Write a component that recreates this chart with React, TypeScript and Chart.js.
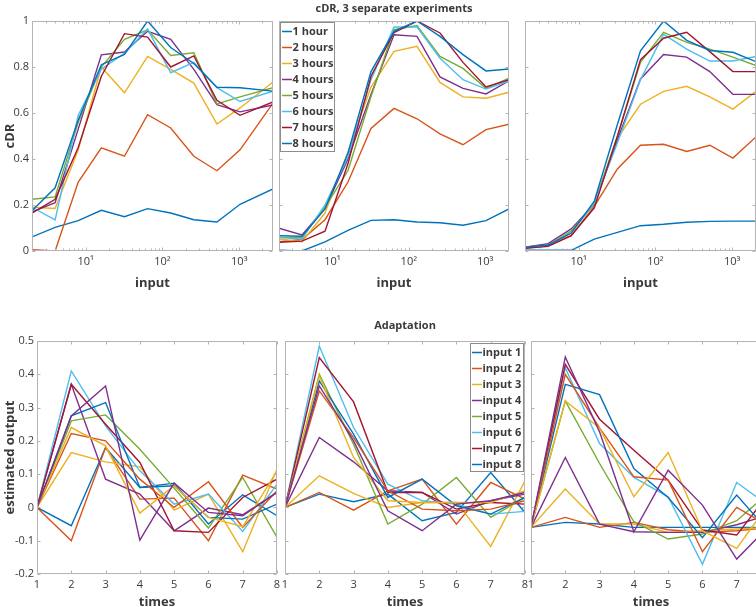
import React, { useEffect, useRef } from 'react';
import { Chart, registerables } from 'chart.js';
Chart.register(...registerables);

const FONT = "'Open Sans', 'Noto Sans', sans-serif";
const TEXT = '#3a3a3a';
const AXIS = '#b4b4b4';
const LEGEND_EDGE = '#8c8c8c';
const PALETTE = ['#0072BD', '#D95319', '#EDB120', '#7E2F8E', '#77AC30', '#4DBEEE', '#A2142F'];
const CW = 800;
const CH = 620;

// ---------- data ----------
const inputsExp1 = [2, 4, 8, 16, 32, 64, 128, 256, 512, 1024, 2750];
const inputsExp23 = [2, 4, 8, 16, 32, 64, 128, 256, 512, 1024, 2048];
const hourNames = ['1 hour', '2 hours', '3 hours', '4 hours', '5 hours', '6 hours', '7 hours', '8 hours'];

const cdrExp1 = [
  [0.061, 0.103, 0.132, 0.177, 0.149, 0.184, 0.165, 0.136, 0.126, 0.203, 0.27],
  [0.006, 0.0, 0.3, 0.448, 0.412, 0.593, 0.535, 0.412, 0.349, 0.44, 0.643],
  [0.19, 0.185, 0.44, 0.8, 0.688, 0.846, 0.79, 0.73, 0.552, 0.622, 0.735],
  [0.17, 0.21, 0.53, 0.853, 0.865, 0.955, 0.92, 0.79, 0.636, 0.605, 0.635],
  [0.225, 0.235, 0.56, 0.8, 0.92, 0.962, 0.85, 0.862, 0.64, 0.67, 0.71],
  [0.19, 0.135, 0.59, 0.79, 0.86, 0.965, 0.775, 0.82, 0.71, 0.65, 0.695],
  [0.165, 0.225, 0.45, 0.76, 0.945, 0.93, 0.8, 0.848, 0.655, 0.59, 0.648],
  [0.175, 0.275, 0.57, 0.81, 0.855, 1.0, 0.885, 0.815, 0.712, 0.71, 0.695],
];
const cdrExp2 = [
  [0.003, 0.0, 0.04, 0.09, 0.133, 0.136, 0.126, 0.123, 0.112, 0.132, 0.183],
  [0.04, 0.05, 0.136, 0.3, 0.533, 0.62, 0.575, 0.509, 0.462, 0.528, 0.551],
  [0.052, 0.04, 0.165, 0.43, 0.713, 0.868, 0.89, 0.733, 0.67, 0.664, 0.69],
  [0.099, 0.07, 0.186, 0.4, 0.68, 0.94, 0.933, 0.757, 0.707, 0.683, 0.74],
  [0.06, 0.06, 0.19, 0.35, 0.672, 0.962, 0.98, 0.846, 0.794, 0.707, 0.752],
  [0.058, 0.052, 0.2, 0.41, 0.745, 0.974, 0.974, 0.838, 0.745, 0.704, 0.739],
  [0.038, 0.043, 0.086, 0.38, 0.76, 0.95, 1.0, 0.948, 0.82, 0.713, 0.745],
  [0.067, 0.064, 0.183, 0.426, 0.78, 0.955, 1.0, 0.933, 0.854, 0.783, 0.791],
];
const cdrExp3 = [
  [0.003, 0.003, 0.003, 0.052, 0.081, 0.11, 0.116, 0.125, 0.129, 0.13, 0.13],
  [0.013, 0.023, 0.067, 0.194, 0.357, 0.46, 0.464, 0.433, 0.46, 0.404, 0.496],
  [0.013, 0.023, 0.078, 0.206, 0.49, 0.638, 0.694, 0.716, 0.67, 0.617, 0.694],
  [0.017, 0.032, 0.096, 0.203, 0.484, 0.748, 0.854, 0.843, 0.78, 0.681, 0.681],
  [0.014, 0.026, 0.087, 0.206, 0.499, 0.82, 0.951, 0.907, 0.878, 0.843, 0.806],
  [0.017, 0.023, 0.078, 0.209, 0.47, 0.745, 0.942, 0.878, 0.826, 0.826, 0.846],
  [0.012, 0.02, 0.067, 0.187, 0.499, 0.832, 0.925, 0.951, 0.867, 0.78, 0.78],
  [0.017, 0.026, 0.078, 0.217, 0.55, 0.87, 1.0, 0.916, 0.872, 0.864, 0.823],
];

const times = [1, 2, 3, 4, 5, 6, 7, 8];
const inputNames = ['input 1', 'input 2', 'input 3', 'input 4', 'input 5', 'input 6', 'input 7', 'input 8', 'input 9', 'input 10', 'input 11'];

const adaptExp1 = [
  [0, -0.055, 0.18, 0.06, 0.073, -0.05, 0.038, -0.025],
  [0, -0.1, 0.18, 0.025, 0.028, -0.1, 0.097, 0.055],
  [0, 0.165, 0.137, 0.122, -0.008, 0.04, -0.133, 0.115],
  [0, 0.37, 0.085, 0.04, -0.07, -0.002, -0.022, 0.045],
  [0, 0.26, 0.278, 0.175, 0.058, -0.062, 0.09, -0.09],
  [0, 0.41, 0.245, 0.11, 0.01, 0.04, -0.072, 0.07],
  [0, 0.37, 0.25, 0.135, -0.07, -0.075, 0.03, 0.085],
  [0, 0.275, 0.315, 0.06, 0.065, -0.03, -0.035, 0.01],
  [0, 0.222, 0.2, 0.085, 0.0, 0.077, -0.06, 0.05],
  [0, 0.24, 0.185, -0.017, 0.065, -0.03, -0.058, 0.11],
  [0, 0.275, 0.365, -0.098, 0.073, -0.015, -0.025, 0.045],
];
const adaptExp2 = [
  [0, 0.04, 0.017, 0.04, -0.04, -0.015, 0.105, -0.015],
  [0, 0.045, -0.008, 0.05, 0.085, -0.05, 0.075, 0.025],
  [0, 0.095, 0.042, 0.0, 0.015, 0.015, -0.117, 0.08],
  [0, 0.21, 0.137, 0.05, 0.045, -0.02, 0.02, 0.04],
  [0, 0.4, 0.19, -0.05, 0.01, 0.09, -0.03, 0.03],
  [0, 0.485, 0.24, 0.07, 0.02, 0.01, -0.02, -0.012],
  [0, 0.45, 0.317, 0.045, 0.045, -0.005, 0.015, 0.01],
  [0, 0.38, 0.22, 0.03, 0.085, 0.005, -0.02, 0.03],
  [0, 0.35, 0.21, 0.05, -0.005, -0.01, -0.005, 0.02],
  [0, 0.395, 0.15, 0.02, 0.015, 0.015, 0.015, 0.05],
  [0, 0.365, 0.2, -0.01, -0.07, 0.01, 0.02, 0.045],
];
const adaptExp3 = [
  [-0.06, -0.045, -0.05, -0.06, -0.06, -0.06, -0.06, -0.06],
  [-0.06, -0.03, -0.06, -0.045, -0.067, -0.075, -0.07, -0.06],
  [-0.06, 0.055, -0.05, -0.05, -0.075, -0.07, -0.065, -0.06],
  [-0.06, 0.15, -0.05, -0.073, -0.075, -0.075, -0.052, -0.02],
  [-0.06, 0.32, 0.132, -0.043, -0.095, -0.08, -0.04, 0.05],
  [-0.06, 0.42, 0.192, 0.09, 0.032, -0.171, 0.075, 0.0],
  [-0.06, 0.43, 0.265, 0.172, 0.082, -0.068, -0.083, 0.05],
  [-0.06, 0.37, 0.339, 0.117, 0.03, -0.091, 0.037, -0.08],
  [-0.06, 0.4, 0.239, 0.092, 0.082, -0.133, 0.0, -0.06],
  [-0.06, 0.32, 0.239, 0.032, 0.165, -0.07, -0.123, 0.02],
  [-0.06, 0.452, 0.227, -0.073, 0.112, 0.007, -0.155, -0.05],
];

const cdrTicks = [0, 0.2, 0.4, 0.6, 0.8, 1];
const logMajorTicks = [10, 100, 1000];
const logMinorTicks = [2, 3, 4, 5, 6, 7, 8, 9, 20, 30, 40, 50, 60, 70, 80, 90, 200, 300, 400, 500, 600, 700, 800, 900, 2000];
const adaptTicks = [-0.2, -0.1, 0, 0.1, 0.2, 0.3, 0.4, 0.5];
const timeTicks = [1, 2, 3, 4, 5, 6, 7, 8];

// ---------- panel layout ----------
type Legend = { x: number; y: number; w: number; h: number; count: number };
type PanelDef = {
  plot: [number, number, number, number];
  yw: number;
  xh: number;
  log: boolean;
  xMin: number; xMax: number; yMin: number; yMax: number;
  xVals: number[];
  series: number[][];
  names: string[];
  xTicks: number[];
  xMinor: number[];
  yTicks: number[];
  showY: boolean;
  yTitle: string;
  xTitle: string;
  legend?: Legend;
};

const PANELS: PanelDef[] = [
  { plot: [32, 21, 273, 251], yw: 32, xh: 40, log: true, xMin: 2, xMax: 2750, yMin: 0, yMax: 1,
    xVals: inputsExp1, series: cdrExp1, names: hourNames, xTicks: logMajorTicks, xMinor: logMinorTicks,
    yTicks: cdrTicks, showY: true, yTitle: 'cDR', xTitle: 'input' },
  { plot: [279, 21, 509, 251], yw: 0, xh: 40, log: true, xMin: 2, xMax: 2048, yMin: 0, yMax: 1,
    xVals: inputsExp23, series: cdrExp2, names: hourNames, xTicks: logMajorTicks, xMinor: logMinorTicks,
    yTicks: cdrTicks, showY: false, yTitle: '', xTitle: 'input',
    legend: { x: 280, y: 22, w: 54, h: 129, count: 8 } },
  { plot: [525, 21, 756, 251], yw: 0, xh: 40, log: true, xMin: 2, xMax: 2048, yMin: 0, yMax: 1,
    xVals: inputsExp23, series: cdrExp3, names: hourNames, xTicks: logMajorTicks, xMinor: logMinorTicks,
    yTicks: cdrTicks, showY: false, yTitle: '', xTitle: 'input' },
  { plot: [37, 341, 277, 574], yw: 37, xh: 36, log: false, xMin: 1, xMax: 8, yMin: -0.2, yMax: 0.5,
    xVals: times, series: adaptExp1, names: inputNames, xTicks: timeTicks, xMinor: [],
    yTicks: adaptTicks, showY: true, yTitle: 'estimated output', xTitle: 'times' },
  { plot: [285, 341, 525, 574], yw: 0, xh: 36, log: false, xMin: 1, xMax: 8, yMin: -0.2, yMax: 0.5,
    xVals: times, series: adaptExp2, names: inputNames, xTicks: timeTicks, xMinor: [],
    yTicks: adaptTicks, showY: false, yTitle: '', xTitle: 'times',
    legend: { x: 470, y: 343, w: 53, h: 128, count: 8 } },
  { plot: [531, 341, 771, 574], yw: 0, xh: 36, log: false, xMin: 1, xMax: 8, yMin: -0.2, yMax: 0.5,
    xVals: times, series: adaptExp3, names: inputNames, xTicks: timeTicks, xMinor: [],
    yTicks: adaptTicks, showY: false, yTitle: '', xTitle: 'times' },
];

const SUP: Record<string, string> = { '1': '\u00b9', '2': '\u00b2', '3': '\u00b3' };

function fmtNum(v: number) {
  return String(Number(v.toFixed(3)));
}

function makeBoxPlugin(p: PanelDef) {
  return {
    id: 'boxTicks',
    afterDatasetsDraw(chart: any) {
      const { ctx, chartArea: a } = chart;
      const xs = chart.scales.x;
      const ys = chart.scales.y;
      const L = Math.round(a.left) + 0.5;
      const R = Math.round(a.right) - 0.5;
      const T = Math.round(a.top) + 0.5;
      const B = Math.round(a.bottom) - 0.5;
      ctx.save();
      ctx.strokeStyle = AXIS;
      ctx.lineWidth = 1;
      ctx.beginPath();
      ctx.rect(L, T, R - L, B - T);
      const xTick = (v: number, len: number) => {
        if (v < p.xMin || v > p.xMax) return;
        const x = Math.round(xs.getPixelForValue(v)) + 0.5;
        ctx.moveTo(x, B); ctx.lineTo(x, B - len);
        ctx.moveTo(x, T); ctx.lineTo(x, T + len);
      };
      p.xTicks.forEach((v) => xTick(v, 3));
      p.xMinor.forEach((v) => xTick(v, 2));
      p.yTicks.forEach((v) => {
        const y = Math.round(ys.getPixelForValue(v)) + 0.5;
        ctx.moveTo(L, y); ctx.lineTo(L + 3, y);
        ctx.moveTo(R, y); ctx.lineTo(R - 3, y);
      });
      ctx.stroke();

      const lg = p.legend;
      if (lg) {
        ctx.fillStyle = '#ffffff';
        ctx.fillRect(lg.x, lg.y, lg.w, lg.h);
        ctx.strokeStyle = LEGEND_EDGE;
        ctx.strokeRect(lg.x + 0.5, lg.y + 0.5, lg.w, lg.h);
        ctx.font = `bold 11px ${FONT}`;
        ctx.textBaseline = 'middle';
        ctx.textAlign = 'left';
        for (let i = 0; i < lg.count; i++) {
          const y = lg.y + 9.5 + i * 16;
          ctx.strokeStyle = PALETTE[i % PALETTE.length];
          ctx.lineWidth = 1.5;
          ctx.beginPath();
          ctx.moveTo(lg.x + 2, y);
          ctx.lineTo(lg.x + 12, y);
          ctx.stroke();
          ctx.fillStyle = TEXT;
          ctx.fillText(p.names[i], lg.x + 12.5, y + 0.5);
        }
      }
      ctx.restore();
    },
  };
}

function makeConfig(p: PanelDef): any {
  const [l, t, r, b] = p.plot;
  const n = p.series.length;
  return {
    type: 'line',
    data: {
      datasets: p.series.map((s, i) => ({
        label: p.names[i],
        data: s.map((v, j) => ({ x: p.xVals[j], y: v })),
        borderColor: PALETTE[i % PALETTE.length],
        backgroundColor: PALETTE[i % PALETTE.length],
        borderWidth: 1.4,
        pointRadius: 0,
        tension: 0,
        fill: false,
        order: n - i,
      })),
    },
    options: {
      animation: false,
      responsive: false,
      maintainAspectRatio: false,
      events: [],
      layout: { padding: { left: l - p.yw, top: t, right: CW - r, bottom: CH - b - p.xh } },
      plugins: {
        legend: { display: false },
        tooltip: { enabled: false },
        title: { display: false },
      },
      scales: {
        x: {
          type: p.log ? 'logarithmic' : 'linear',
          min: p.xMin,
          max: p.xMax,
          grid: { display: false, drawTicks: false },
          border: { display: false },
          afterBuildTicks: (s: any) => {
            s.ticks = p.xTicks.map((v) => ({ value: v }));
          },
          ticks: {
            padding: 4,
            color: TEXT,
            autoSkip: false,
            maxRotation: 0,
            font: { size: 11, family: FONT },
            callback: (v: number) => {
              if (p.log) {
                const e = Math.round(Math.log10(v));
                return '10' + (SUP[String(e)] || '');
              }
              return fmtNum(v);
            },
          },
          title: {
            display: true,
            text: p.xTitle,
            color: TEXT,
            padding: 0,
            font: { size: 13, weight: 'bold', family: FONT },
          },
          afterFit: (s: any) => { s.height = p.xh; },
        },
        y: {
          type: 'linear',
          min: p.yMin,
          max: p.yMax,
          grid: { display: false, drawTicks: false },
          border: { display: false },
          afterBuildTicks: (s: any) => {
            s.ticks = p.yTicks.map((v) => ({ value: v }));
          },
          ticks: {
            display: p.showY,
            padding: 3,
            color: TEXT,
            font: { size: 11, family: FONT },
            callback: (v: number) => fmtNum(v),
          },
          title: {
            display: !!p.yTitle,
            text: p.yTitle,
            color: TEXT,
            padding: { top: 2, bottom: 0 },
            font: { size: 13, weight: 'bold', family: FONT },
          },
          afterFit: (s: any) => { s.width = p.yw; },
        },
      },
    },
    plugins: [makeBoxPlugin(p)],
  };
}

const titleStyle = (cx: number, top: number): React.CSSProperties => ({
  position: 'absolute',
  left: cx - 200,
  top,
  width: 400,
  textAlign: 'center',
  font: `bold 11px ${FONT}`,
  lineHeight: '15px',
  color: TEXT,
  whiteSpace: 'nowrap',
});

export default function App() {
  const refs = useRef<(HTMLCanvasElement | null)[]>([]);
  useEffect(() => {
    const charts = PANELS.map((p, i) => new Chart(refs.current[i] as HTMLCanvasElement, makeConfig(p)));
    return () => charts.forEach((c) => c.destroy());
  }, []);
  return (
    <div style={{ position: 'absolute', left: 0, top: 0, width: 756, height: 607, overflow: 'hidden', background: '#ffffff' }}>
      {PANELS.map((_, i) => (
        <canvas
          key={i}
          ref={(el) => { refs.current[i] = el; }}
          width={CW}
          height={CH}
          style={{ position: 'absolute', left: 0, top: 0, width: CW, height: CH }}
        />
      ))}
      <div style={titleStyle(394, 0)}>cDR, 3 separate experiments</div>
      <div style={titleStyle(405, 317)}>Adaptation</div>
    </div>
  );
}
